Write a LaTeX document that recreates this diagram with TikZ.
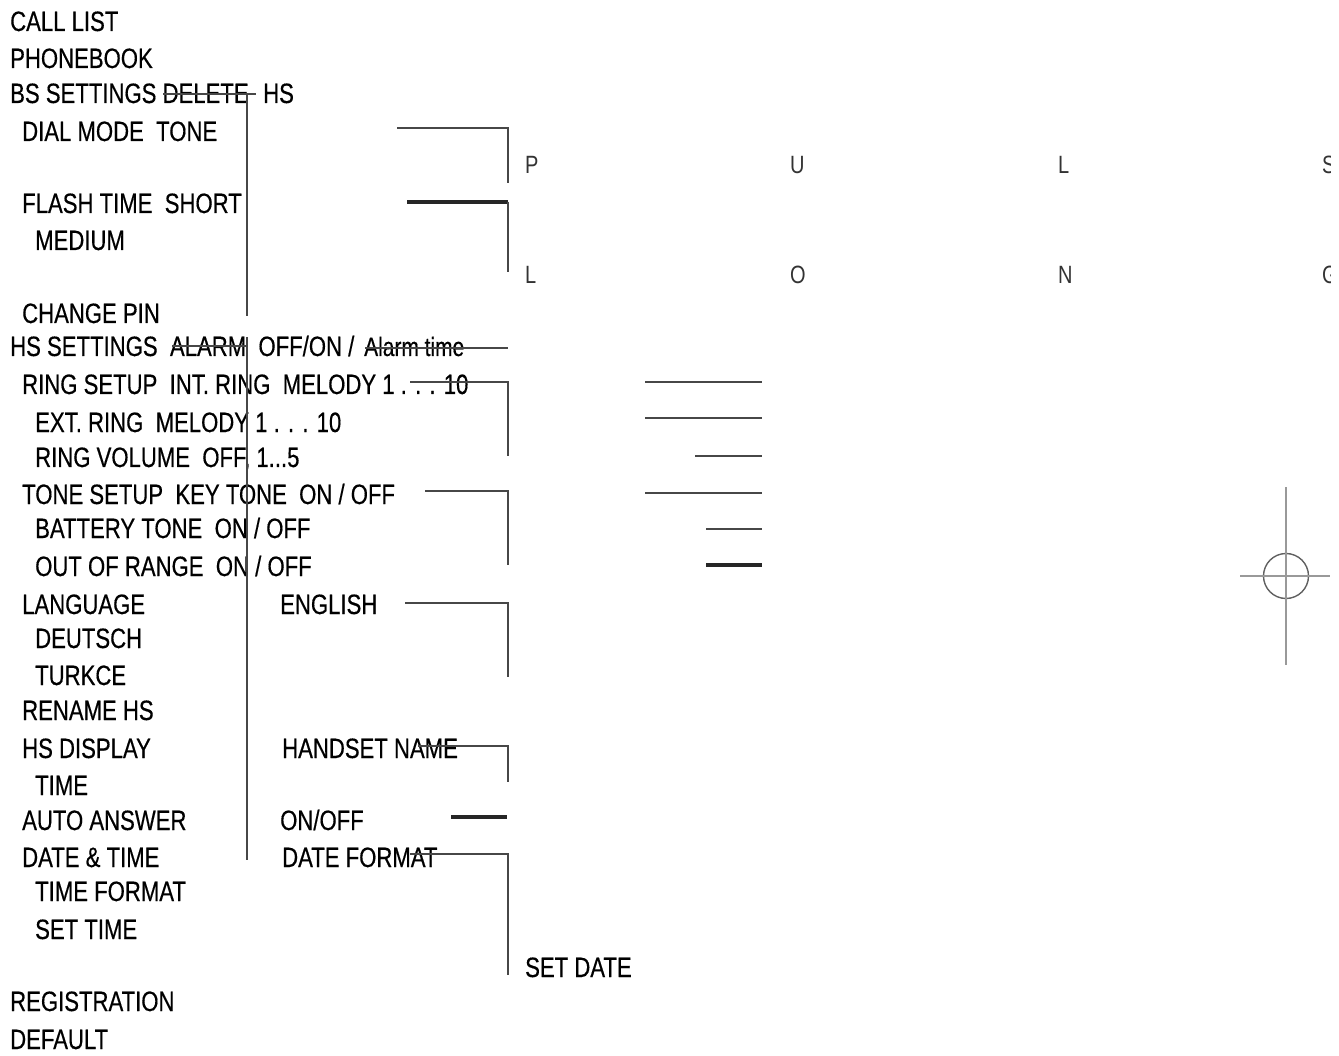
\documentclass[tikz,border=0pt]{standalone}
\usepackage{fontspec}
\newfontfamily\menufont[FakeStretch=0.79, FakeBold=0.4]{Liberation Sans}
\newfontfamily\letterfont[FakeStretch=0.8]{Liberation Sans}
\usetikzlibrary{positioning}

\begin{document}
\begin{tikzpicture}[
    x=1pt, y=-1pt,
    item/.style={anchor=base west, inner sep=0pt, text=black, font=\menufont\fontsize{28}{30}\selectfont},
    small/.style={item, font=\menufont\fontsize{26.5}{30}\selectfont},
    letter/.style={anchor=base west, inner sep=0pt, text=black!80, font=\letterfont\fontsize{25}{30}\selectfont},
    wire/.style={draw=black!72, line width=1.8pt},
    heavy/.style={wire, draw=black!85, line width=3.4pt},
    faint/.style={draw=black!40, line width=1.4pt}
]
\clip (0,0) rectangle (1339,1056);
\fill[white] (0,0) rectangle (1339,1056);

% Main menu
\node[item] (calllist) at (10,31) {CALL LIST};
\node[item] (phonebook) at (10,68) {PHONEBOOK};
\node[item] (bsset) at (10,103) {BS SETTINGS~DELETE};
\node[item] (bshs) at (263,103) {HS};
\node[item] (dial) at (22,141) {DIAL MODE~~TONE};
\node[item] (flash) at (22,213) {FLASH TIME~~SHORT};
\node[item] (medium) at (35,250) {MEDIUM};
\node[item] (pin) at (22,323) {CHANGE PIN};
\node[item] (hsset) at (10,356) {HS SETTINGS~~ALARM~~OFF/ON /};
\node[small] (alarmtime) at (364,356) {Alarm time};
\node[item] (ring) at (22,394) {RING SETUP~~INT. RING~~MELODY 1 . . . 10};
\node[item] (ext) at (35,432) {EXT. RING~~MELODY 1 . . . 10};
\node[item] (volume) at (35,467) {RING VOLUME~~OFF, 1...5};
\node[item] (tone) at (22,504) {TONE SETUP~~KEY TONE~~ON / OFF};
\node[item] (battery) at (35,538) {BATTERY TONE~~ON / OFF};
\node[item] (range) at (35,576) {OUT OF RANGE~~ON / OFF};
\node[item] (language) at (22,614) {LANGUAGE};
\node[item] (english) at (280,614) {ENGLISH};
\node[item] (deutsch) at (35,648) {DEUTSCH};
\node[item] (turkce) at (35,685) {TURKCE};
\node[item] (rename) at (22,720) {RENAME HS};
\node[item] (display) at (22,758) {HS DISPLAY};
\node[item] (hsname) at (282,758) {HANDSET NAME};
\node[item] (time) at (35,795) {TIME};
\node[item] (answer) at (22,830) {AUTO ANSWER};
\node[item] (onoff) at (280,830) {ON/OFF};
\node[item] (datetime) at (22,867) {DATE \& TIME};
\node[item] (dateformat) at (282,867) {DATE FORMAT};
\node[item] (timeformat) at (35,901) {TIME FORMAT};
\node[item] (settime) at (35,939) {SET TIME};
\node[item] (setdate) at (525,977) {SET DATE};
\node[item] (registration) at (10,1011) {REGISTRATION};
\node[item] (default) at (10,1049) {DEFAULT};

% Letters on the right
\begin{scope}
\clip (0,0) rectangle (1330,1056);
\node[letter] (p1) at (525,174) {P};
\node[letter] (p2) at (790,174) {U};
\node[letter] (p3) at (1058,174) {L};
\node[letter] (p4) at (1322,174) {S};
\node[letter] (l1) at (525,284) {L};
\node[letter] (l2) at (790,284) {O};
\node[letter] (l3) at (1058,284) {N};
\node[letter] (l4) at (1322,284) {G};
\end{scope}

% Spine
\coordinate (spine_a) at (247,95);
\coordinate (spine_b) at (247,316);
\coordinate (spine_c) at (247,337);
\coordinate (spine_d) at (247,860);
\draw[wire] (spine_a) -- (spine_b);
\draw[wire] (spine_c) -- (spine_d);

% Strike lines
\coordinate (del_a) at (163,94);
\coordinate (del_b) at (256,94);
\draw[wire] (del_a) -- (del_b);
\coordinate (alarm_a) at (172,346);
\coordinate (alarm_b) at (246,346);
\draw[wire] (alarm_a) -- (alarm_b);

% Brackets
\coordinate (dial_a) at (397,128);
\coordinate (dial_b) at (508,183);
\draw[wire] (dial_a) -| (dial_b);
\coordinate (flash_a) at (407,202);
\coordinate (flash_b) at (508,272);
\draw[heavy] (flash_a) -- (flash_b |- flash_a);
\draw[wire] (flash_b |- flash_a) -- (flash_b);
\coordinate (hs_a) at (365,348);
\coordinate (hs_b) at (508,348);
\draw[wire] (hs_a) -- (hs_b);
\coordinate (ring_a) at (410,382);
\coordinate (ring_b) at (508,456);
\draw[wire] (ring_a) -| (ring_b);
\coordinate (tone_a) at (425,491);
\coordinate (tone_b) at (508,565);
\draw[wire] (tone_a) -| (tone_b);
\coordinate (lang_a) at (405,603);
\coordinate (lang_b) at (508,677);
\draw[wire] (lang_a) -| (lang_b);
\coordinate (name_a) at (418,746);
\coordinate (name_b) at (508,782);
\draw[wire] (name_a) -| (name_b);
\coordinate (answer_a) at (451,817);
\coordinate (answer_b) at (507,817);
\draw[heavy] (answer_a) -- (answer_b);
\coordinate (date_a) at (410,854);
\coordinate (date_b) at (508,975);
\draw[wire] (date_a) -| (date_b);

% Short lines
\foreach \y/\x in {382/645, 418/645, 456/695, 493/645, 529/706}
  \draw[wire] (\x,\y) -- (762,\y);
\coordinate (short_a) at (706,565);
\coordinate (short_b) at (762,565);
\draw[heavy] (short_a) -- (short_b);

% Target mark
\node[circle, draw=black!62, line width=1.4pt, minimum size=45pt, inner sep=0pt] (target) at (1286,576) {};
\coordinate (target_n) at (1286,487);
\coordinate (target_s) at (1286,665);
\coordinate (target_w) at (1240,576);
\coordinate (target_e) at (1330,576);
\draw[faint] (target_n) -- (target_s);
\draw[faint] (target_w) -- (target_e);

\end{tikzpicture}
\end{document}
